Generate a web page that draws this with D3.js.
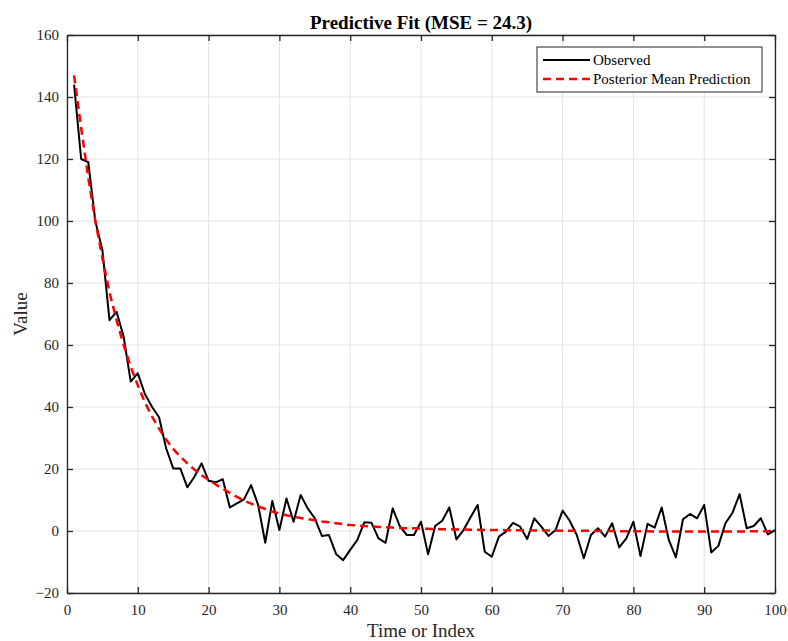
<!DOCTYPE html>
<html><head><meta charset="utf-8">
<script src="https://cdn.jsdelivr.net/npm/d3@7"></script>
<style>body{margin:0;background:#fff;} svg{display:block;}</style>
</head><body>
<svg id="c" width="788" height="641"></svg>
<script>
const observed = [144,120,119,100,90.6,68,70.7,62.7,48.2,50.9,44.2,40.1,36.7,26.7,20.2,20.2,14.1,17.5,21.8,16.2,
15.7,16.7,7.6,8.9,10.2,14.8,8.4,-3.8,9.7,0.3,10.5,3.0,11.6,7.3,4.1,-1.6,-1.3,-7.4,-9.4,-6.1,
-2.9,2.8,2.7,-2.4,-3.8,7.3,1.6,-1.3,-1.3,3.0,-7.5,1.6,3.3,7.6,-2.7,0.3,4.4,8.4,-6.7,-8.3,
-1.8,-0.2,2.6,1.4,-2.6,4.1,1.4,-1.6,0.3,6.6,3.3,-1.3,-8.8,-1.3,0.9,-1.8,2.5,-5.3,-2.4,3.0,
-8.1,2.3,1.1,7.6,-2.9,-8.5,3.8,5.5,4.1,8.4,-6.9,-4.8,2.5,5.9,11.9,0.9,1.6,4.1,-1.1,0.3];
const predicted = [147,130,114,100,88,77,68,60,53,47,41.5,37,33,29.5,26.5,24,21.8,19.8,18,16.5,
15,13.6,12.3,11,9.8,8.8,7.9,7.1,6.3,5.6,5.1,4.6,4.2,3.8,3.5,3.1,2.8,2.5,2.2,1.9,
1.8,1.6,1.5,1.3,1.2,1.1,1.0,0.9,0.85,0.8,0.7,0.65,0.6,0.55,0.5,0.45,0.4,0.38,0.35,0.3,
0.3,0.28,0.26,0.24,0.22,0.2,0.18,0.16,0.14,0.12,0.1,0.08,0.06,0.04,0.02,0,-0.02,-0.04,-0.06,-0.08,
-0.1,-0.12,-0.14,-0.16,-0.18,-0.2,-0.2,-0.2,-0.2,-0.2,-0.2,-0.2,-0.2,-0.18,-0.15,-0.12,-0.1,-0.08,-0.05,-0.02];
const xTicks = [0,10,20,30,40,50,60,70,80,90,100];
const yTicks = [-20,0,20,40,60,80,100,120,140,160];
const title = "Predictive Fit (MSE = 24.3)";
const xLabel = "Time or Index";
const yLabel = "Value";
const legendLabels = ["Observed","Posterior Mean Prediction"];

const svg = d3.select("#c");
const L=67,R=775,T=35,B=593;
const x = d3.scaleLinear().domain([0,100]).range([L,R]);
const y = d3.scaleLinear().domain([-20,160]).range([B,T]);
const font = "'Liberation Serif','Times New Roman',serif";
const axCol = "#262626";

// grid
svg.append("g").selectAll("line").data(xTicks).join("line")
  .attr("x1",d=>x(d)).attr("x2",d=>x(d)).attr("y1",T).attr("y2",B)
  .attr("stroke","#e3e3e3").attr("stroke-width",1);
svg.append("g").selectAll("line").data(yTicks).join("line")
  .attr("y1",d=>y(d)).attr("y2",d=>y(d)).attr("x1",L).attr("x2",R)
  .attr("stroke","#e3e3e3").attr("stroke-width",1);

// lines
const idx = d3.range(1, observed.length+1);
const line = d3.line().x((d,i)=>x(idx[i])).y(d=>y(d));
svg.append("path").datum(observed).attr("d",line).attr("fill","none")
  .attr("stroke","#000").attr("stroke-width",2).attr("stroke-linejoin","round");
svg.append("path").datum(predicted).attr("d",line).attr("fill","none")
  .attr("stroke","#ff0000").attr("stroke-width",2.5).attr("stroke-dasharray","8,5");

// axes box
const gx = svg.append("g").attr("transform",`translate(0,${B})`)
  .call(d3.axisBottom(x).tickValues(xTicks).tickSizeInner(-6).tickSizeOuter(0).tickPadding(11));
const gxt = svg.append("g").attr("transform",`translate(0,${T})`)
  .call(d3.axisTop(x).tickValues(xTicks).tickSizeInner(-6).tickSizeOuter(0).tickFormat(""));
const gy = svg.append("g").attr("transform",`translate(${L},0)`)
  .call(d3.axisLeft(y).tickValues(yTicks).tickSizeInner(-6).tickSizeOuter(0).tickPadding(8));
const gyr = svg.append("g").attr("transform",`translate(${R},0)`)
  .call(d3.axisRight(y).tickValues(yTicks).tickSizeInner(-6).tickSizeOuter(0).tickFormat(""));
[gx,gxt,gy,gyr].forEach(g=>{
  g.select(".domain").attr("stroke",axCol).attr("stroke-width",1.3);
  g.selectAll(".tick line").attr("stroke",axCol).attr("stroke-width",1.3);
  g.selectAll(".tick text").attr("fill",axCol).style("font-family",font).style("font-size","15px");
});

// title & labels
svg.append("text").attr("x",(L+R)/2).attr("y",29).attr("text-anchor","middle")
  .style("font-family",font).style("font-size","19px").style("font-weight","bold").attr("fill","#000").text(title);
svg.append("text").attr("x",(L+R)/2).attr("y",637).attr("text-anchor","middle")
  .style("font-family",font).style("font-size","19px").attr("fill",axCol).text(xLabel);
svg.append("text").attr("transform",`translate(27,${(T+B)/2}) rotate(-90)`).attr("text-anchor","middle")
  .style("font-family",font).style("font-size","19px").attr("fill",axCol).text(yLabel);

// legend
const lg = svg.append("g");
lg.append("rect").attr("x",537).attr("y",47).attr("width",225).attr("height",45)
  .attr("fill","#fff").attr("stroke",axCol).attr("stroke-width",1);
const styles=[{c:"#000",d:null,w:2},{c:"#ff0000",d:"8,5",w:2.5}];
legendLabels.forEach((t,i)=>{
  const yy = 60 + i*19;
  lg.append("line").attr("x1",543).attr("x2",590).attr("y1",yy).attr("y2",yy)
    .attr("stroke",styles[i].c).attr("stroke-width",styles[i].w).attr("stroke-dasharray",styles[i].d);
  lg.append("text").attr("x",593).attr("y",yy+5).style("font-family",font).style("font-size","15px")
    .attr("fill","#000").text(t);
});
</script>
</body></html>
